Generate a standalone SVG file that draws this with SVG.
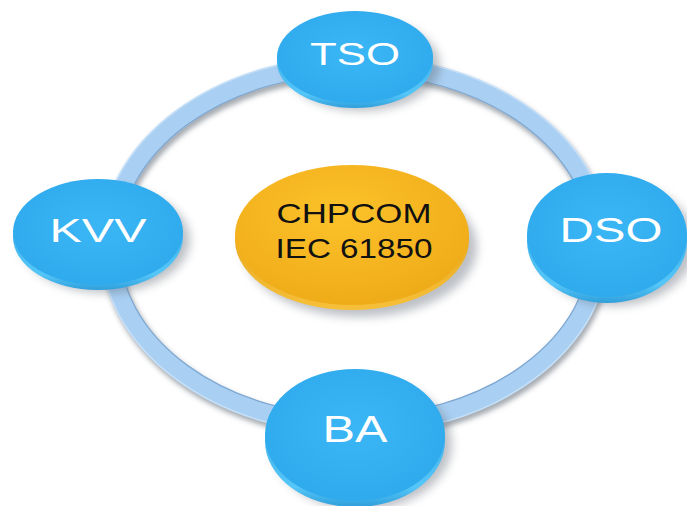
<svg xmlns="http://www.w3.org/2000/svg" width="687" height="506" viewBox="0 0 687 506">
  <defs>
    <style>
      .lbl { font-family: "Liberation Sans", Arial, sans-serif; fill: #ffffff; text-anchor: middle; }
      .core { font-family: "Liberation Sans", Arial, sans-serif; fill: #111111; text-anchor: middle; }
      .face { fill: url(#blueFace); }
      .rim { fill: url(#blueRim); }
      .shade { fill: #5a6470; opacity: 0.4; filter: url(#soft); }
    </style>
    <radialGradient id="blueFace" cx="0.5" cy="0.45" r="0.6">
      <stop offset="0" stop-color="#3bb6f5"/>
      <stop offset="1" stop-color="#2ea9ec"/>
    </radialGradient>
    <linearGradient id="blueRim" x1="0" y1="0" x2="0" y2="1">
      <stop offset="0" stop-color="#2a9edf"/>
      <stop offset="0.85" stop-color="#55c6f8"/>
      <stop offset="1" stop-color="#2f9fdc"/>
    </linearGradient>
    <radialGradient id="goldFace" cx="0.45" cy="0.35" r="0.7">
      <stop offset="0" stop-color="#fcc22a"/>
      <stop offset="1" stop-color="#eeaa18"/>
    </radialGradient>
    <linearGradient id="goldRim" x1="0" y1="0" x2="0" y2="1">
      <stop offset="0" stop-color="#d8960f"/>
      <stop offset="1" stop-color="#f7c03a"/>
    </linearGradient>
    <filter id="soft" x="-30%" y="-30%" width="160%" height="160%">
      <feGaussianBlur stdDeviation="5"/>
    </filter>
    <filter id="ringSoft" x="-10%" y="-10%" width="120%" height="120%">
      <feGaussianBlur stdDeviation="2.5"/>
    </filter>
  </defs>

  <!-- ring connecting the four partners -->
  <g id="connectors">
    <ellipse cx="357" cy="249" rx="245" ry="180" fill="none" stroke="#4d5a66" stroke-opacity="0.5" stroke-width="20" filter="url(#ringSoft)"/>
    <ellipse cx="355" cy="245" rx="245" ry="180" fill="none" stroke="#a9cff2" stroke-width="19"/>
    <ellipse cx="355" cy="245" rx="254" ry="189" fill="none" stroke="#c6e0f8" stroke-width="1.5"/>
    <ellipse cx="355" cy="245" rx="236" ry="171" fill="none" stroke="#7fa6cf" stroke-width="1.2"/>
  </g>

  <!-- central unit -->
  <g id="chpcom">
    <ellipse class="shade" cx="360" cy="247" rx="117" ry="70"/>
    <ellipse cx="352" cy="240" rx="117" ry="70" fill="url(#goldRim)"/>
    <ellipse cx="352" cy="235" rx="117" ry="70" fill="url(#goldFace)"/>
    <text class="core" x="354" y="223" font-size="28" textLength="155" lengthAdjust="spacingAndGlyphs">CHPCOM</text>
    <text class="core" x="354" y="258" font-size="28" textLength="157" lengthAdjust="spacingAndGlyphs">IEC 61850</text>
  </g>

  <g id="tso">
    <ellipse class="shade" cx="362" cy="65" rx="78" ry="46"/>
    <ellipse class="rim" cx="355" cy="62" rx="78" ry="46"/>
    <ellipse class="face" cx="355" cy="57" rx="78" ry="46"/>
    <text class="lbl" x="355" y="65" font-size="31" textLength="90" lengthAdjust="spacingAndGlyphs">TSO</text>
  </g>

  <g id="dso">
    <ellipse class="shade" cx="615" cy="244" rx="80" ry="62"/>
    <ellipse class="rim" cx="607" cy="241" rx="80" ry="62"/>
    <ellipse class="face" cx="607" cy="235" rx="80" ry="62"/>
    <text class="lbl" x="611" y="242" font-size="35" textLength="103" lengthAdjust="spacingAndGlyphs">DSO</text>
  </g>

  <g id="ba">
    <ellipse class="shade" cx="362" cy="444" rx="90" ry="66"/>
    <ellipse class="rim" cx="355" cy="441" rx="90" ry="66"/>
    <ellipse class="face" cx="355" cy="435" rx="90" ry="66"/>
    <text class="lbl" x="355" y="442" font-size="37" textLength="65" lengthAdjust="spacingAndGlyphs">BA</text>
  </g>

  <g id="kvv">
    <ellipse class="shade" cx="105" cy="240" rx="85" ry="53"/>
    <ellipse class="rim" cx="98" cy="237" rx="85" ry="53"/>
    <ellipse class="face" cx="98" cy="232" rx="85" ry="53"/>
    <text class="lbl" x="98" y="242" font-size="33" textLength="97" lengthAdjust="spacingAndGlyphs">KVV</text>
  </g>
</svg>
